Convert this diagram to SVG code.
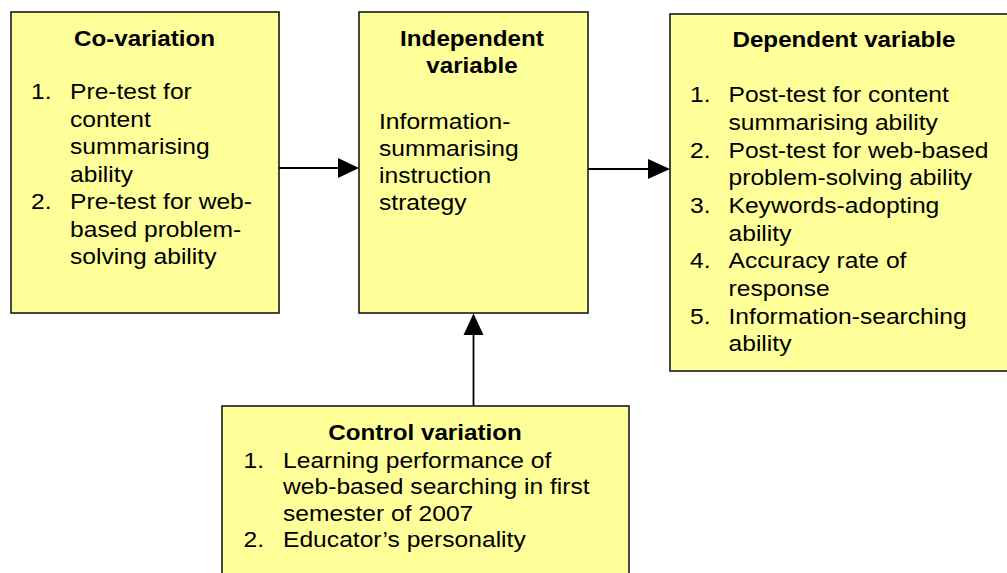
<svg xmlns="http://www.w3.org/2000/svg" width="1007" height="573" viewBox="0 0 1007 573">
<style>
.box{fill:#FFFF99;stroke:#1a1a1a;stroke-width:1.6}
text{font-family:"Liberation Sans",Arial,sans-serif;font-size:22px;fill:#000}
.h{font-weight:bold;text-anchor:middle}
.conn{stroke:#000;stroke-width:1.8;fill:none}
.head{fill:#000}
</style>
<rect width="1007" height="573" fill="#fff"/>
<g id="covariation">
<rect class="box" x="11" y="12" width="268" height="301"/>
<text class="h" transform="translate(144.5 46) scale(1.1 1)">Co-variation</text>
<text transform="translate(31 99) scale(1.12 1)">1.</text>
<text transform="translate(70 99) scale(1.12 1)">Pre-test for</text>
<text transform="translate(70 126.5) scale(1.12 1)">content</text>
<text transform="translate(70 154) scale(1.12 1)">summarising</text>
<text transform="translate(70 181.5) scale(1.12 1)">ability</text>
<text transform="translate(31 209) scale(1.12 1)">2.</text>
<text transform="translate(70 209) scale(1.12 1)">Pre-test for web-</text>
<text transform="translate(70 236.5) scale(1.12 1)">based problem-</text>
<text transform="translate(70 264) scale(1.12 1)">solving ability</text>
</g>
<g id="independent">
<rect class="box" x="359" y="12" width="229" height="301"/>
<text class="h" transform="translate(472 46) scale(1.1 1)">Independent</text>
<text class="h" transform="translate(472 72.5) scale(1.1 1)">variable</text>
<text transform="translate(379 129) scale(1.12 1)">Information-</text>
<text transform="translate(379 156) scale(1.12 1)">summarising</text>
<text transform="translate(379 183) scale(1.12 1)">instruction</text>
<text transform="translate(379 210) scale(1.12 1)">strategy</text>
</g>
<g id="dependent">
<rect class="box" x="670" y="14" width="345" height="357"/>
<text class="h" transform="translate(844 46.5) scale(1.1 1)">Dependent variable</text>
<text transform="translate(690 102) scale(1.12 1)">1.</text>
<text transform="translate(728.5 102) scale(1.12 1)">Post-test for content</text>
<text transform="translate(728.5 130) scale(1.12 1)">summarising ability</text>
<text transform="translate(690 157.5) scale(1.12 1)">2.</text>
<text transform="translate(728.5 157.5) scale(1.12 1)">Post-test for web-based</text>
<text transform="translate(728.5 185) scale(1.12 1)">problem-solving ability</text>
<text transform="translate(690 213) scale(1.12 1)">3.</text>
<text transform="translate(728.5 213) scale(1.12 1)">Keywords-adopting</text>
<text transform="translate(728.5 240.5) scale(1.12 1)">ability</text>
<text transform="translate(690 268) scale(1.12 1)">4.</text>
<text transform="translate(728.5 268) scale(1.12 1)">Accuracy rate of</text>
<text transform="translate(728.5 296) scale(1.12 1)">response</text>
<text transform="translate(690 323.5) scale(1.12 1)">5.</text>
<text transform="translate(728.5 323.5) scale(1.12 1)">Information-searching</text>
<text transform="translate(728.5 351) scale(1.12 1)">ability</text>
</g>
<g id="control">
<rect class="box" x="222" y="406" width="407" height="180"/>
<text class="h" transform="translate(425 439.5) scale(1.1 1)">Control variation</text>
<text transform="translate(243.5 468) scale(1.12 1)">1.</text>
<text transform="translate(283 468) scale(1.12 1)">Learning performance of</text>
<text transform="translate(283 494.3) scale(1.12 1)">web-based searching in first</text>
<text transform="translate(283 520.6) scale(1.12 1)">semester of 2007</text>
<text transform="translate(243.5 547) scale(1.12 1)">2.</text>
<text transform="translate(283 547) scale(1.12 1)">Educator’s personality</text>
</g>
<g id="connectors">
<line class="conn" x1="279" y1="168" x2="340" y2="168"/>
<polygon class="head" points="359,168 338,158 338,178"/>
<line class="conn" x1="588" y1="169" x2="650" y2="169"/>
<polygon class="head" points="670,169 648,159 648,179"/>
<line class="conn" x1="473.5" y1="406" x2="473.5" y2="333"/>
<polygon class="head" points="473.5,313.5 463.5,335 483.5,335"/>
</g>
</svg>
